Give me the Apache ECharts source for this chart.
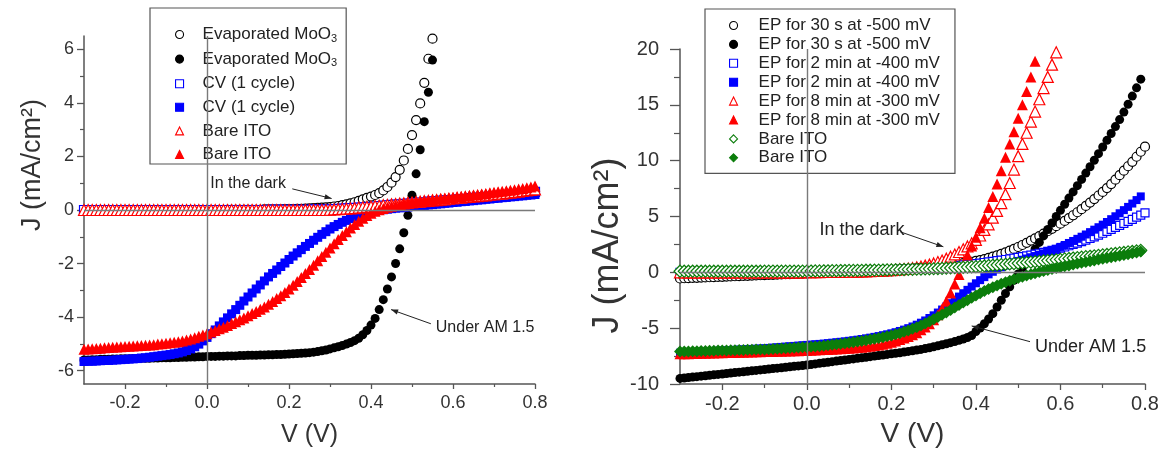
<!DOCTYPE html>
<html><head><meta charset="utf-8">
<script src="https://cdn.jsdelivr.net/npm/echarts@6/dist/echarts.min.js"></script>
<style>html,body{margin:0;padding:0;background:#fff}#c{width:1167px;height:462px}</style>
</head><body><div id="c"></div>
<script>
// ---------- shared voltage grid (V) ----------
const V = [
-0.30,-0.29,-0.28,-0.27,-0.26,-0.25,-0.24,-0.23,-0.22,-0.21,
-0.20,-0.19,-0.18,-0.17,-0.16,-0.15,-0.14,-0.13,-0.12,-0.11,
-0.10,-0.09,-0.08,-0.07,-0.06,-0.05,-0.04,-0.03,-0.02,-0.01,
0.00,0.01,0.02,0.03,0.04,0.05,0.06,0.07,0.08,0.09,
0.10,0.11,0.12,0.13,0.14,0.15,0.16,0.17,0.18,0.19,
0.20,0.21,0.22,0.23,0.24,0.25,0.26,0.27,0.28,0.29,
0.30,0.31,0.32,0.33,0.34,0.35,0.36,0.37,0.38,0.39,
0.40,0.41,0.42,0.43,0.44,0.45,0.46,0.47,0.48,0.49,
0.50,0.51,0.52,0.53,0.54,0.55,0.56,0.57,0.58,0.59,
0.60,0.61,0.62,0.63,0.64,0.65,0.66,0.67,0.68,0.69,
0.70,0.71,0.72,0.73,0.74,0.75,0.76,0.77,0.78,0.79,
0.80];

// ---------- ticks ----------
const xTickValues = [-0.2,0.0,0.2,0.4,0.6,0.8];
const xMinorValues = [-0.1,0.1,0.3,0.5,0.7];
const leftYTickValues = [-6,-4,-2,0,2,4,6];
const leftYMinorValues = [-5,-3,-1,1,3,5];
const rightYTickValues = [-10,-5,0,5,10,15,20];
const rightYMinorValues = [-7.5,-2.5,2.5,7.5,12.5,17.5];

// ---------- left panel: J (mA/cm2) ----------
const leftNames = ['Evaporated MoO3','Evaporated MoO3','CV (1 cycle)','CV (1 cycle)','Bare ITO','Bare ITO'];
const evapDark = [
0,0,0,0,0,0,0,0,0,0,
0,0,0,0,0,0,0,0,0,0,
0,0,0,0,0,0,0,0,0,0,
0.00,0.00,0.00,0.00,0.00,0.01,0.01,0.01,0.01,0.01,
0.01,0.01,0.01,0.01,0.02,0.02,0.02,0.02,0.02,0.03,
0.03,0.03,0.04,0.04,0.05,0.06,0.07,0.08,0.09,0.10,
0.11,0.13,0.15,0.18,0.21,0.25,0.29,0.34,0.40,0.45,
0.50,0.56,0.63,0.73,0.86,1.02,1.23,1.50,1.85,2.28,
2.80,3.36,3.98,4.75,5.65,6.40];
const evapLight = [
-5.60,-5.60,-5.59,-5.59,-5.58,-5.58,-5.58,-5.57,-5.57,-5.56,
-5.56,-5.56,-5.55,-5.55,-5.54,-5.54,-5.54,-5.53,-5.53,-5.52,
-5.52,-5.52,-5.51,-5.51,-5.50,-5.50,-5.49,-5.49,-5.48,-5.48,
-5.47,-5.47,-5.47,-5.46,-5.46,-5.45,-5.45,-5.45,-5.44,-5.44,
-5.43,-5.43,-5.43,-5.42,-5.42,-5.41,-5.41,-5.40,-5.40,-5.39,
-5.38,-5.37,-5.36,-5.35,-5.34,-5.33,-5.31,-5.29,-5.26,-5.23,
-5.19,-5.15,-5.11,-5.06,-5.01,-4.95,-4.88,-4.79,-4.66,-4.50,
-4.30,-4.05,-3.72,-3.35,-2.95,-2.50,-2.00,-1.45,-0.85,-0.20,
0.55,1.35,2.25,3.30,4.40,5.60];
const cvDark = [
0,0,0,0,0,0,0,0,0,0,
0,0,0,0,0,0,0,0,0,0,
0,0,0,0,0,0,0,0,0,0,
0,0,0,0,0,0,0,0,0,0,
0.00,0.00,0.00,0.00,0.00,0.01,0.01,0.01,0.01,0.01,
0.01,0.01,0.01,0.01,0.01,0.01,0.02,0.02,0.02,0.02,
0.02,0.03,0.04,0.05,0.06,0.07,0.08,0.09,0.10,0.11,
0.12,0.13,0.15,0.16,0.17,0.19,0.20,0.21,0.23,0.24,
0.25,0.27,0.28,0.29,0.31,0.32,0.33,0.35,0.36,0.37,
0.38,0.40,0.41,0.42,0.44,0.45,0.46,0.48,0.49,0.50,
0.52,0.53,0.55,0.56,0.58,0.59,0.61,0.62,0.64,0.66,0.68];
const cvLight = [
-5.66,-5.65,-5.65,-5.64,-5.63,-5.62,-5.62,-5.61,-5.60,-5.59,
-5.58,-5.57,-5.56,-5.55,-5.53,-5.52,-5.50,-5.48,-5.46,-5.44,
-5.42,-5.40,-5.37,-5.34,-5.30,-5.25,-5.19,-5.11,-5.01,-4.89,
-4.76,-4.62,-4.48,-4.33,-4.18,-4.03,-3.88,-3.72,-3.56,-3.40,
-3.25,-3.10,-2.95,-2.80,-2.65,-2.50,-2.37,-2.24,-2.11,-1.98,
-1.85,-1.72,-1.60,-1.48,-1.36,-1.25,-1.13,-1.02,-0.91,-0.81,
-0.71,-0.62,-0.54,-0.46,-0.39,-0.32,-0.26,-0.21,-0.16,-0.11,
-0.07,-0.04,-0.01,0.01,0.03,0.05,0.07,0.08,0.10,0.11,
0.13,0.14,0.16,0.17,0.19,0.20,0.22,0.23,0.25,0.26,
0.28,0.29,0.31,0.32,0.34,0.35,0.37,0.38,0.40,0.41,
0.43,0.44,0.46,0.47,0.49,0.50,0.52,0.53,0.55,0.56,0.58];
const itoDarkL = [
0,0,0,0,0,0,0,0,0,0,
0,0,0,0,0,0,0,0,0,0,
0,0,0,0,0,0,0,0,0,0,
0,0,0,0,0,0,0,0,0,0,
0,0,0,0,0,0,0,0,0,0,
0,0,0,0,0,0,0,0,0,0,
0.01,0.02,0.03,0.04,0.05,0.06,0.07,0.09,0.10,0.12,
0.13,0.15,0.16,0.18,0.19,0.21,0.22,0.24,0.25,0.27,
0.28,0.30,0.31,0.33,0.34,0.36,0.37,0.39,0.40,0.42,
0.43,0.45,0.46,0.48,0.49,0.51,0.52,0.54,0.55,0.57,
0.58,0.60,0.61,0.63,0.65,0.67,0.69,0.71,0.73,0.75,0.77];
const itoLightL = [
-5.20,-5.19,-5.18,-5.17,-5.16,-5.15,-5.14,-5.13,-5.12,-5.11,
-5.10,-5.09,-5.08,-5.07,-5.06,-5.05,-5.04,-5.03,-5.01,-5.00,
-4.98,-4.96,-4.94,-4.92,-4.89,-4.86,-4.82,-4.77,-4.72,-4.67,
-4.62,-4.56,-4.50,-4.44,-4.38,-4.31,-4.24,-4.17,-4.10,-4.03,
-3.95,-3.87,-3.79,-3.71,-3.62,-3.52,-3.42,-3.31,-3.20,-3.08,
-2.95,-2.81,-2.67,-2.52,-2.37,-2.22,-2.06,-1.90,-1.74,-1.58,
-1.42,-1.26,-1.10,-0.95,-0.81,-0.67,-0.54,-0.42,-0.31,-0.21,
-0.12,-0.05,0.01,0.06,0.10,0.14,0.17,0.20,0.23,0.25,
0.28,0.30,0.32,0.34,0.36,0.38,0.40,0.42,0.43,0.45,
0.47,0.49,0.50,0.52,0.54,0.56,0.58,0.60,0.62,0.64,
0.66,0.68,0.70,0.72,0.74,0.76,0.78,0.80,0.83,0.86,0.90];

// ---------- right panel: J (mA/cm2) ----------
const rightNames = ['EP for 30 s at -500 mV','EP for 30 s at -500 mV','EP for 2 min at -400 mV','EP for 2 min at -400 mV',
  'EP for 8 min at -300 mV','EP for 8 min at -300 mV','Bare ITO','Bare ITO'];
const ep30Dark = [
-0.55,-0.53,-0.52,-0.50,-0.49,-0.47,-0.46,-0.44,-0.43,-0.41,
-0.40,-0.38,-0.37,-0.35,-0.34,-0.32,-0.31,-0.29,-0.28,-0.26,
-0.25,-0.23,-0.22,-0.20,-0.19,-0.17,-0.16,-0.14,-0.13,-0.11,
-0.10,-0.08,-0.07,-0.05,-0.04,-0.02,-0.01,0.01,0.02,0.04,
0.05,0.07,0.08,0.10,0.11,0.13,0.15,0.17,0.19,0.21,
0.23,0.25,0.27,0.29,0.32,0.34,0.37,0.40,0.43,0.46,
0.50,0.54,0.58,0.62,0.67,0.72,0.77,0.83,0.89,0.95,
1.02,1.10,1.19,1.29,1.40,1.52,1.65,1.79,1.94,2.10,
2.27,2.45,2.64,2.84,3.04,3.25,3.46,3.68,3.90,4.13,
4.36,4.60,4.85,5.11,5.38,5.66,5.95,6.25,6.56,6.88,
7.20,7.55,7.90,8.30,8.70,9.10,9.50,9.90,10.35,10.80,11.25];
const ep30Light = [
-9.50,-9.46,-9.42,-9.38,-9.34,-9.30,-9.26,-9.22,-9.18,-9.14,
-9.10,-9.06,-9.02,-8.98,-8.94,-8.90,-8.86,-8.82,-8.78,-8.74,
-8.70,-8.66,-8.62,-8.58,-8.54,-8.50,-8.46,-8.42,-8.38,-8.34,
-8.30,-8.25,-8.20,-8.15,-8.10,-8.05,-8.00,-7.95,-7.90,-7.85,
-7.80,-7.75,-7.70,-7.65,-7.60,-7.55,-7.50,-7.45,-7.40,-7.35,
-7.30,-7.25,-7.20,-7.14,-7.08,-7.02,-6.96,-6.90,-6.83,-6.75,
-6.66,-6.58,-6.49,-6.40,-6.30,-6.20,-6.09,-5.97,-5.84,-5.66,
-5.30,-4.98,-4.60,-4.18,-3.70,-3.10,-2.50,-1.90,-1.30,-0.72,
-0.15,0.40,0.95,1.52,2.10,2.68,3.26,3.84,4.42,5.00,
5.55,6.10,6.65,7.20,7.76,8.32,8.89,9.46,10.04,10.63,
11.22,11.82,12.43,13.05,13.68,14.35,15.05,15.78,16.52,17.30];
const ep2Dark = [
0,0,0,0,0,0,0,0,0,0,
0,0,0,0,0,0,0,0,0,0,
0.01,0.01,0.01,0.01,0.01,0.01,0.01,0.01,0.01,0.01,
0.02,0.02,0.03,0.03,0.04,0.04,0.05,0.05,0.06,0.07,
0.08,0.09,0.10,0.11,0.12,0.13,0.14,0.15,0.17,0.18,
0.20,0.22,0.24,0.26,0.28,0.30,0.32,0.34,0.37,0.40,
0.43,0.46,0.49,0.52,0.55,0.59,0.62,0.66,0.70,0.74,
0.78,0.83,0.88,0.93,0.98,1.04,1.09,1.15,1.21,1.27,
1.34,1.41,1.48,1.55,1.63,1.71,1.79,1.88,1.97,2.06,
2.16,2.27,2.38,2.50,2.62,2.75,2.89,3.03,3.18,3.34,
3.50,3.67,3.84,4.02,4.20,4.38,4.56,4.75,4.94,5.13,5.32];
const ep2Light = [
-7.20,-7.18,-7.16,-7.14,-7.12,-7.10,-7.08,-7.06,-7.04,-7.02,
-7.00,-6.98,-6.96,-6.94,-6.92,-6.90,-6.88,-6.86,-6.84,-6.82,
-6.80,-6.77,-6.74,-6.71,-6.68,-6.65,-6.62,-6.59,-6.56,-6.53,
-6.50,-6.47,-6.44,-6.41,-6.38,-6.34,-6.30,-6.26,-6.22,-6.18,
-6.13,-6.08,-6.03,-5.97,-5.91,-5.85,-5.78,-5.71,-5.63,-5.55,
-5.46,-5.36,-5.25,-5.13,-5.00,-4.85,-4.69,-4.51,-4.31,-4.09,
-3.85,-3.60,-3.33,-3.05,-2.76,-2.47,-2.17,-1.87,-1.57,-1.27,
-0.98,-0.70,-0.43,-0.18,0.05,0.26,0.45,0.62,0.77,0.90,
1.02,1.13,1.24,1.35,1.46,1.58,1.70,1.83,1.96,2.10,
2.28,2.45,2.63,2.81,3.00,3.19,3.39,3.60,3.82,4.04,
4.27,4.51,4.76,5.02,5.29,5.57,5.86,6.16,6.47,6.80];
const ep8Dark = [
0,0,0,0,0,0,0,0,0,0,
0,0,0,0,0,0,0,0,0,0,
0,0,0,0,0,0,0,0,0,0,
0.01,0.01,0.02,0.02,0.03,0.03,0.04,0.04,0.04,0.05,
0.05,0.06,0.07,0.08,0.09,0.10,0.12,0.14,0.16,0.18,
0.20,0.23,0.26,0.30,0.34,0.39,0.45,0.52,0.60,0.69,
0.80,0.92,1.06,1.22,1.40,1.60,1.82,2.06,2.32,2.60,
2.90,3.30,3.80,4.30,4.90,5.50,6.20,7.00,8.00,9.20,
10.40,11.50,12.50,13.50,14.40,15.50,16.50,17.50,18.60,19.70];
const ep8Light = [
-7.30,-7.29,-7.28,-7.27,-7.26,-7.25,-7.24,-7.23,-7.22,-7.21,
-7.20,-7.19,-7.18,-7.17,-7.16,-7.15,-7.14,-7.13,-7.12,-7.11,
-7.10,-7.09,-7.08,-7.07,-7.06,-7.05,-7.04,-7.03,-7.02,-7.01,
-7.00,-6.98,-6.96,-6.94,-6.92,-6.90,-6.88,-6.86,-6.84,-6.82,
-6.80,-6.77,-6.74,-6.70,-6.66,-6.61,-6.56,-6.50,-6.43,-6.35,
-6.25,-6.14,-6.02,-5.89,-5.75,-5.60,-5.40,-5.15,-4.90,-4.60,
-4.25,-3.80,-3.25,-2.60,-1.85,-1.05,-0.20,0.65,1.55,2.35,
3.15,4.00,4.85,5.80,6.80,7.90,9.10,10.30,11.50,12.60,
13.80,15.00,16.20,17.50,18.90];
const itoDarkR = [
0.10,0.10,0.10,0.10,0.10,0.10,0.10,0.10,0.10,0.10,
0.10,0.10,0.10,0.10,0.10,0.10,0.10,0.10,0.10,0.10,
0.11,0.11,0.11,0.11,0.11,0.11,0.11,0.11,0.11,0.11,
0.12,0.12,0.13,0.13,0.14,0.14,0.15,0.15,0.16,0.16,
0.17,0.17,0.18,0.18,0.19,0.19,0.20,0.20,0.21,0.22,
0.22,0.23,0.24,0.25,0.26,0.27,0.28,0.29,0.30,0.31,
0.32,0.34,0.35,0.37,0.39,0.41,0.43,0.45,0.47,0.49,
0.51,0.54,0.57,0.60,0.63,0.66,0.69,0.72,0.75,0.78,
0.81,0.84,0.88,0.91,0.95,0.98,1.02,1.05,1.09,1.12,
1.16,1.20,1.24,1.28,1.32,1.36,1.40,1.44,1.48,1.52,
1.56,1.60,1.65,1.69,1.74,1.78,1.83,1.87,1.92,1.97];
const itoLightR = [
-7.10,-7.09,-7.08,-7.07,-7.06,-7.05,-7.04,-7.03,-7.02,-7.01,
-7.00,-6.99,-6.98,-6.97,-6.96,-6.95,-6.94,-6.93,-6.92,-6.91,
-6.90,-6.88,-6.86,-6.84,-6.82,-6.80,-6.78,-6.76,-6.74,-6.72,
-6.70,-6.67,-6.64,-6.61,-6.57,-6.53,-6.49,-6.45,-6.40,-6.35,
-6.30,-6.25,-6.20,-6.14,-6.08,-6.02,-5.95,-5.88,-5.81,-5.73,
-5.65,-5.55,-5.45,-5.33,-5.20,-5.06,-4.91,-4.75,-4.58,-4.40,
-4.21,-4.01,-3.80,-3.59,-3.37,-3.15,-2.93,-2.71,-2.49,-2.28,
-2.07,-1.87,-1.68,-1.50,-1.33,-1.17,-1.02,-0.88,-0.75,-0.62,
-0.50,-0.39,-0.28,-0.18,-0.08,0.02,0.11,0.20,0.29,0.38,
0.46,0.54,0.62,0.70,0.78,0.86,0.93,1.00,1.07,1.14,
1.21,1.28,1.35,1.42,1.49,1.56,1.63,1.70,1.78,1.86];

// ---------- annotations (data coordinates) ----------
const notes = [
  {panel:0, text:'In the dark',  at:[0.008, 1.00],  from:[0.208, 0.79],  to:[0.304, 0.43],  size:16},
  {panel:0, text:'Under AM 1.5', at:[0.558, -4.40], from:[0.546, -4.25], to:[0.449, -3.72], size:16},
  {panel:1, text:'In the dark',  at:[0.030, 3.79],  from:[0.221, 3.63],  to:[0.323, 2.29],  size:18},
  {panel:1, text:'Under AM 1.5', at:[0.540, -6.66], from:[0.528, -6.21], to:[0.390, -4.80], size:18}
];

const FONT = '"Liberation Sans", Arial, Helvetica, sans-serif';
const AX = '#555';
const TXT = '#333';

function pts(arr){ return arr.map((j,i)=>[V[i], j]); }

function series(name, arr, symbol, size, color, open, xi, yi, extra){
  const s = {
    name, type:'scatter', xAxisIndex:xi, yAxisIndex:yi, data:pts(arr),
    symbol, symbolSize:size, animation:false, emphasis:{disabled:true}, silent:true,
    itemStyle: open ? {color:'#fff', borderColor:color, borderWidth:1.2, opacity:1}
                    : {color:color, borderColor:color, borderWidth:0, opacity:1}
  };
  return Object.assign(s, extra||{});
}
const zeroLines = {
  silent:true, symbol:['none','none'], label:{show:false}, animation:false,
  lineStyle:{color:'#7a7a7a', width:1.4, type:'solid'}, emphasis:{disabled:true},
  data:[{xAxis:0},{yAxis:0}]
};

function xMain(grid, fs, tickLen, nameFs, nameGap){
  return {type:'value', gridIndex:grid, min:-0.3, max:0.8, position:'bottom',
    axisLine:{show:true, onZero:false, lineStyle:{color:AX, width:1.5}},
    axisTick:{show:true, customValues:xTickValues, length:tickLen, lineStyle:{color:AX, width:1.3}},
    axisLabel:{customValues:xTickValues, formatter:v=>v.toFixed(1), fontSize:fs, color:TXT, fontFamily:FONT, margin:10},
    splitLine:{show:false},
    name:'V (V)', nameLocation:'middle', nameGap:nameGap, nameTextStyle:{fontSize:nameFs, color:TXT, fontFamily:FONT}};
}
function xMinor(grid, tickLen){
  return {type:'value', gridIndex:grid, min:-0.3, max:0.8, position:'bottom',
    axisLine:{show:false, onZero:false}, axisLabel:{show:false}, splitLine:{show:false},
    axisTick:{show:true, customValues:xMinorValues, length:tickLen, lineStyle:{color:AX, width:1.2}}};
}
function yMain(grid, min, max, ticks, fs, tickLen, margin, nameFs, nameGap, namePad){
  return {type:'value', gridIndex:grid, min, max, position:'left',
    axisLine:{show:true, onZero:false, lineStyle:{color:AX, width:1.5}},
    axisTick:{show:true, customValues:ticks, length:tickLen, lineStyle:{color:AX, width:1.3}},
    axisLabel:{customValues:ticks, fontSize:fs, color:TXT, fontFamily:FONT, margin},
    splitLine:{show:false},
    name:'J (mA/cm²)', nameLocation:'middle', nameGap, nameTextStyle:{fontSize:nameFs, color:TXT, fontFamily:FONT, padding:namePad}};
}
function yMinor(grid, min, max, ticks, tickLen){
  return {type:'value', gridIndex:grid, min, max, position:'left',
    axisLine:{show:false, onZero:false}, axisLabel:{show:false}, splitLine:{show:false},
    axisTick:{show:true, customValues:ticks, length:tickLen, lineStyle:{color:AX, width:1.2}}};
}

const leftKeys = ['l1','l2','l3','l4','l5','l6'];
const rightKeys = ['r1','r2','r3','r4','r5','r6','r7','r8'];
function richName(s){
  if (/O3$/.test(s)) return '{g|}{t|' + s.slice(0,-1) + '}{s|3}';
  return '{g|}{t|' + s + '}';
}

const BLUE = '#0000ff', RED = '#ff0000', GREEN = '#0b7d0b', BLACK = '#000000';

const option = {
  animation:false,
  backgroundColor:'#fff',
  textStyle:{fontFamily:FONT},
  grid:[
    {left:84, top:36, width:451, height:348},
    {left:680, top:49, width:465, height:335}
  ],
  xAxis:[ xMain(0,18,5,25,39), xMinor(0,3), xMain(1,20,6,28,36), xMinor(1,4) ],
  yAxis:[
    yMain(0,-6.5,6.5,leftYTickValues,18,7,10,27,38,[0,0,0,90]),
    yMinor(0,-6.5,6.5,leftYMinorValues,4),
    yMain(1,-10,20,rightYTickValues,20,10,21,36,54,[0,58,0,0]),
    yMinor(1,-10,20,rightYMinorValues,6)
  ],
  legend:[
    {data:leftKeys, orient:'vertical', left:150, top:8, itemWidth:8, itemHeight:8, itemGap:6.6,
     padding:[18,9,1,25], borderColor:'#555', borderWidth:1.2, backgroundColor:'#fff', selectedMode:false,
     itemStyle:{borderWidth:1.1},
     formatter:n=>richName(leftNames[leftKeys.indexOf(n)]),
     textStyle:{fontFamily:FONT, fontSize:17, color:'#222',
       rich:{g:{width:14}, t:{fontSize:17, lineHeight:19, color:'#222', fontFamily:FONT},
             s:{fontSize:11, lineHeight:6, verticalAlign:'bottom', color:'#222', fontFamily:FONT}}}},
    {data:rightKeys, orient:'vertical', left:705, top:9, itemWidth:8, itemHeight:8, itemGap:1.9,
     padding:[8,15,7,24], borderColor:'#555', borderWidth:1.2, backgroundColor:'#fff', selectedMode:false,
     itemStyle:{borderWidth:1.1},
     formatter:n=>richName(rightNames[rightKeys.indexOf(n)]),
     textStyle:{fontFamily:FONT, fontSize:17, color:'#222',
       rich:{g:{width:16}, t:{fontSize:17, lineHeight:19, color:'#222', fontFamily:FONT}}}}
  ],
  series:[
    series('l1', evapDark,  'circle',   9, BLACK, true,  0,0, {z:1, markLine:zeroLines}),
    series('l2', evapLight, 'circle',   9, BLACK, false, 0,0),
    series('l3', cvDark,    'rect',     9, BLUE,  true,  0,0),
    series('l4', cvLight,   'rect',     9, BLUE,  false, 0,0),
    series('l5', itoDarkL,  'triangle',11, RED,   true,  0,0),
    series('l6', itoLightL, 'triangle',11, RED,   false, 0,0),
    series('r1', ep30Dark,  'circle',   9, BLACK, true,  2,2, {z:1, markLine:zeroLines}),
    series('r2', ep30Light, 'circle',   9, BLACK, false, 2,2),
    series('r3', ep2Dark,   'rect',     8, BLUE,  true,  2,2),
    series('r4', ep2Light,  'rect',     8, BLUE,  false, 2,2),
    series('r5', ep8Dark,   'triangle',11, RED,   true,  2,2),
    series('r6', ep8Light,  'triangle',11, RED,   false, 2,2),
    series('r7', itoDarkR,  'diamond', 12, GREEN, true,  2,2),
    series('r8', itoLightR, 'diamond', 12, GREEN, false, 2,2)
  ]
};

const chart = echarts.init(document.getElementById('c'), null, {renderer:'canvas'});
chart.setOption(option);

// annotations: text + arrow, positioned through the chart's own scales
const g = [];
notes.forEach(n=>{
  const finder = {seriesIndex: n.panel === 0 ? 0 : 6};
  const p = chart.convertToPixel(finder, n.at);
  const a = chart.convertToPixel(finder, n.from);
  const b = chart.convertToPixel(finder, n.to);
  g.push({type:'text', x:p[0], y:p[1], z:50, silent:true,
    style:{text:n.text, fontSize:n.size, fontFamily:FONT, fill:'#222', align:'left', verticalAlign:'middle'}});
  g.push({type:'line', z:50, silent:true, shape:{x1:a[0], y1:a[1], x2:b[0], y2:b[1]}, style:{stroke:'#222', lineWidth:1}});
  const dx=b[0]-a[0], dy=b[1]-a[1], L=Math.hypot(dx,dy), ux=dx/L, uy=dy/L, hl=7, hw=2.6;
  g.push({type:'polygon', z:50, silent:true, shape:{points:[[b[0],b[1]],
    [b[0]-ux*hl-uy*hw, b[1]-uy*hl+ux*hw],[b[0]-ux*hl+uy*hw, b[1]-uy*hl-ux*hw]]}, style:{fill:'#222'}});
});
chart.setOption({graphic:g});
</script>
</body></html>
